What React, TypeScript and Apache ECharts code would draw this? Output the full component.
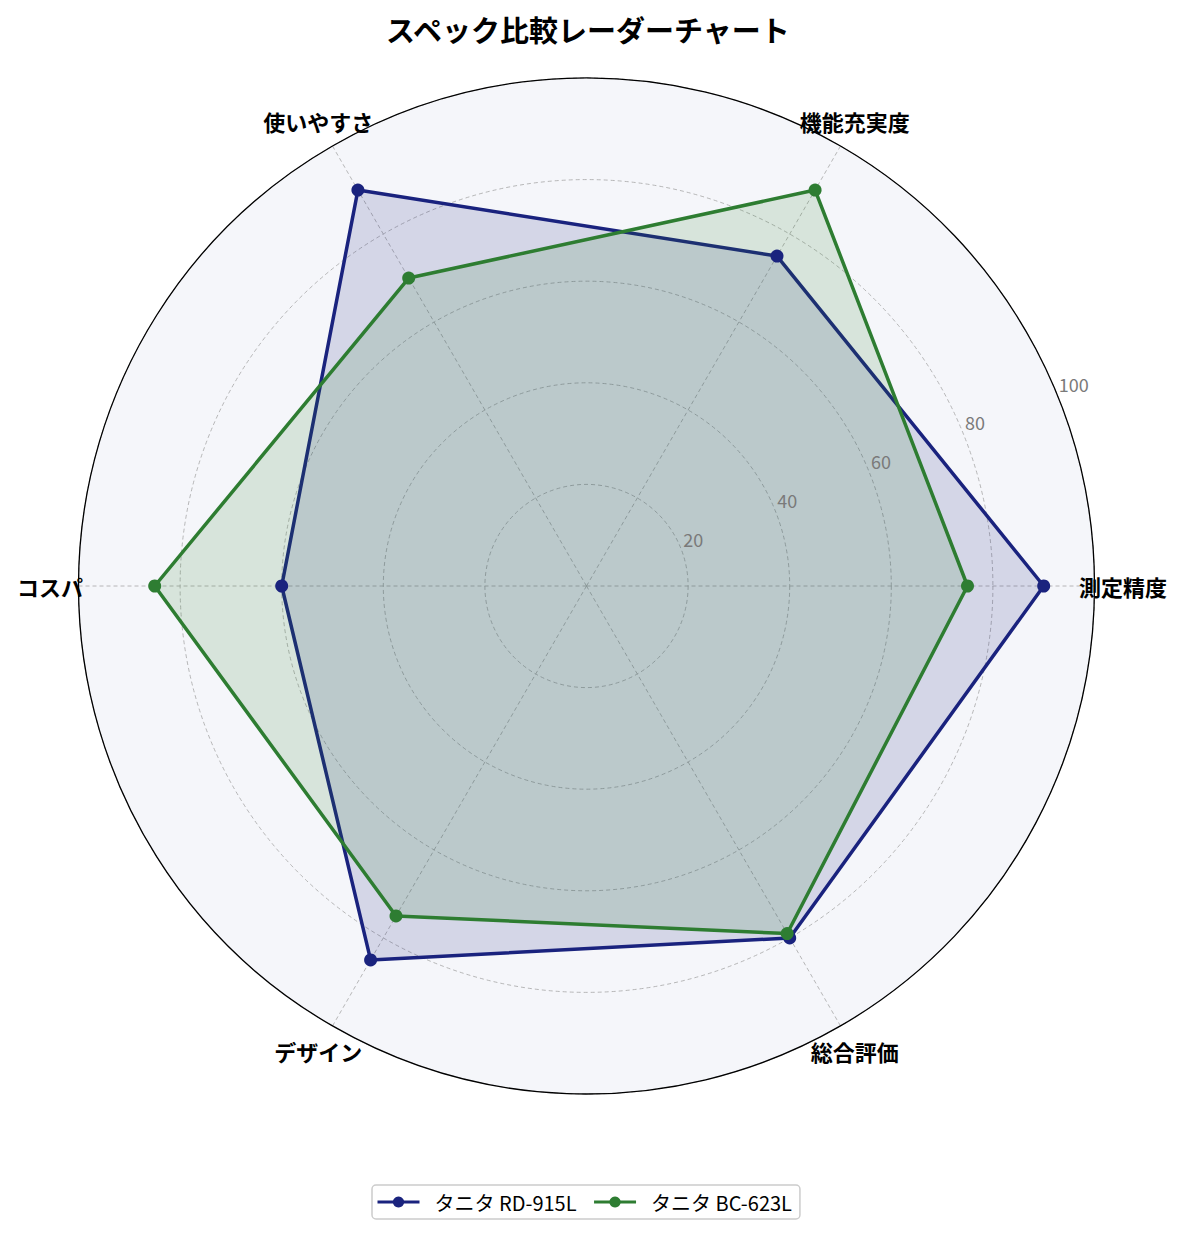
import { useRef, useEffect } from 'react';
import * as echarts from 'echarts';

const CATEGORIES = ['測定精度', '機能充実度', '使いやすさ', 'コスパ', 'デザイン', '総合評価'];
const SERIES_NAMES = ['タニタ RD-915L', 'タニタ BC-623L'];
const RD_915L = [90, 75, 90, 60, 85, 80];
const BC_623L = [75, 90, 70, 85, 75, 79];
const RADIAL_TICKS = [20, 40, 60, 80, 100];

const COLORS = ['#1a237e', '#2e7d32'];
const FONT = '"Noto Sans CJK JP", "Noto Sans", sans-serif';

// geometry of the polar area (page px)
const CENTER = [586.5, 586];
const RADIUS = 508;
const LABEL_R = 105.6; // category names sit just outside the 100 ring
const RLABEL_ANGLE = 22.5;

export default function App() {
  const containerRef = useRef<HTMLDivElement>(null);

  useEffect(() => {
    if (!containerRef.current) return;
    const chart = echarts.init(containerRef.current, null, { renderer: 'svg' });

    const gridLine = { color: '#a6a6a6', width: 0.8, type: [4, 3] as number[] };
    const values = [RD_915L, BC_623L];

    chart.setOption({
      animation: false,
      textStyle: { fontFamily: FONT },
      title: {
        text: 'スペック比較レーダーチャート',
        left: 381,
        top: 9,
        textStyle: { fontSize: 29, fontWeight: 'bold', color: '#000', fontFamily: FONT },
      },
      legend: {
        data: SERIES_NAMES,
        left: 372,
        top: 1185,
        itemWidth: 42,
        itemHeight: 14,
        itemGap: 16,
        padding: [7, 8, 7, 4],
        borderColor: '#cccccc',
        borderWidth: 1.5,
        borderRadius: 4,
        backgroundColor: '#fff',
        lineStyle: { width: 3 },
        textStyle: { fontSize: 20, color: '#000', fontFamily: FONT, padding: [0, 0, 0, 10] },
      },
      polar: [
        { center: CENTER, radius: RADIUS },
        { center: CENTER, radius: RADIUS },
      ],
      angleAxis: [
        {
          // category positions (labels only)
          polarIndex: 0,
          type: 'category',
          data: CATEGORIES,
          boundaryGap: false,
          startAngle: 0,
          clockwise: false,
          show: false,
        },
        {
          // full circle grid: outer ring + spokes
          polarIndex: 1,
          type: 'value',
          min: 0,
          max: 360,
          interval: 360 / CATEGORIES.length,
          startAngle: 0,
          clockwise: false,
          z: 1,
          axisLine: { show: true, lineStyle: { color: '#000', width: 1.3 } },
          axisTick: { show: false },
          axisLabel: { show: false },
          splitLine: { show: true, lineStyle: gridLine },
        },
      ],
      radiusAxis: [
        { polarIndex: 0, min: 0, max: 100, show: false },
        {
          polarIndex: 1,
          min: 0,
          max: 100,
          interval: 20,
          z: 1,
          axisLine: { show: false },
          axisTick: { show: false },
          axisLabel: { show: false },
          splitLine: { show: true, lineStyle: gridLine },
        },
      ],
      radar: {
        center: CENTER,
        radius: RADIUS,
        startAngle: 0,
        shape: 'circle',
        z: 0,
        splitNumber: 5,
        indicator: CATEGORIES.map((name) => ({ name, min: 0, max: 100 })),
        axisName: { show: false },
        axisLine: { show: false },
        splitLine: { show: false },
        splitArea: { show: true, areaStyle: { color: ['#f5f6fa'] } },
        axisTick: { show: false },
        axisLabel: { show: false },
      },
      series: [
        // legend icons (line + marker)
        ...SERIES_NAMES.map((name, i) => ({
          type: 'line',
          name,
          coordinateSystem: 'polar',
          polarIndex: 0,
          data: [],
          symbol: 'circle',
          symbolSize: 12,
          color: COLORS[i],
          lineStyle: { color: COLORS[i], width: 3 },
          itemStyle: { color: COLORS[i] },
        })),
        {
          type: 'radar',
          radarIndex: 0,
          symbol: 'circle',
          symbolSize: 13,
          z: 3,
          data: SERIES_NAMES.map((name, i) => ({
            name,
            value: values[i],
            lineStyle: { color: COLORS[i], width: 3.5 },
            itemStyle: { color: COLORS[i] },
            areaStyle: { color: COLORS[i], opacity: 0.15 },
          })),
        },
        // category names
        {
          type: 'scatter',
          coordinateSystem: 'polar',
          polarIndex: 0,
          clip: false,
          silent: true,
          symbolSize: 0,
          z: 4,
          data: CATEGORIES.map((_, i) => [LABEL_R, i]),
          label: {
            show: true,
            position: 'inside',
            align: 'center',
            verticalAlign: 'middle',
            formatter: (p: any) => CATEGORIES[p.dataIndex],
            fontSize: 22,
            fontWeight: 'bold',
            color: '#000',
            opacity: 1,
            textBorderWidth: 0,
            fontFamily: FONT,
          },
        },
        // radial tick labels
        {
          type: 'scatter',
          coordinateSystem: 'polar',
          polarIndex: 1,
          clip: false,
          silent: true,
          symbolSize: 0,
          z: 4,
          data: RADIAL_TICKS.map((t) => [t, RLABEL_ANGLE]),
          label: {
            show: true,
            position: 'inside',
            align: 'left',
            verticalAlign: 'bottom',
            offset: [3, 1],
            formatter: (p: any) => String(RADIAL_TICKS[p.dataIndex]),
            fontSize: 18,
            color: '#7a7a7a',
            opacity: 1,
            textBorderWidth: 0,
            fontFamily: FONT,
          },
        },
      ],
    });

    return () => {
      chart.dispose();
    };
  }, []);

  return (
    <div
      ref={containerRef}
      style={{ position: 'absolute', left: 0, top: 0, width: 1185, height: 1235, background: '#fff' }}
    />
  );
}
